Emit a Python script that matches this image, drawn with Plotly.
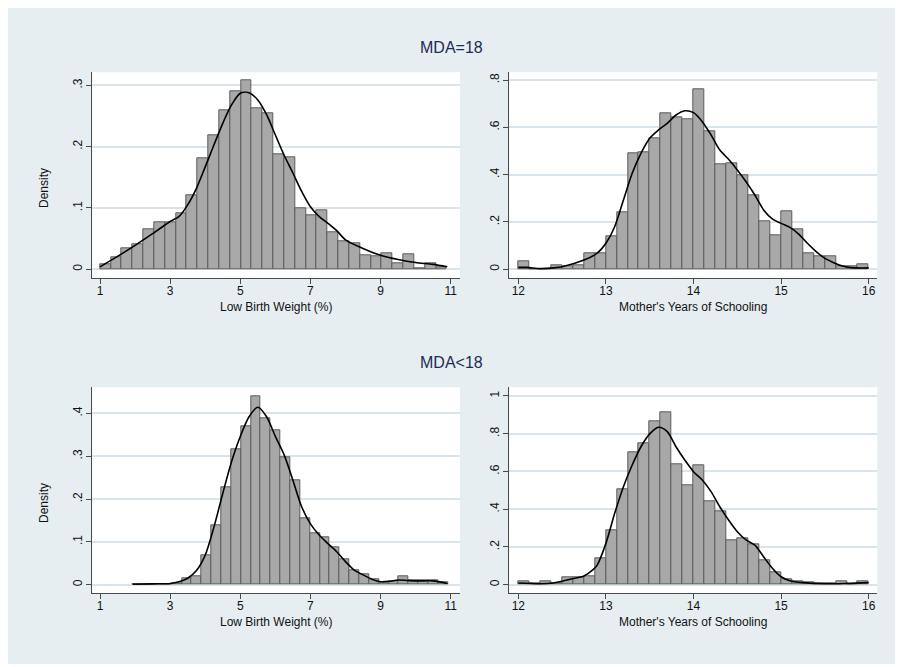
import plotly.graph_objects as go

# ---------------- data ----------------
# Panel A: MDA=18, Low Birth Weight (%)
lbw18_start, lbw18_width = 1.0, 0.309
lbw18_density = [0.008, 0.020, 0.034, 0.041, 0.065, 0.077, 0.077, 0.091, 0.121, 0.181,
                 0.218, 0.259, 0.291, 0.308, 0.263, 0.255, 0.188, 0.183, 0.100, 0.088,
                 0.096, 0.060, 0.045, 0.042, 0.022, 0.021, 0.026, 0.009, 0.024, 0.002,
                 0.010, 0.004]
lbw18_kde_x = [1.0, 1.5, 2.0, 2.5, 3.0, 3.25, 3.5, 3.75, 4.0, 4.25, 4.5, 4.75, 5.0, 5.25,
               5.5, 5.75, 6.0, 6.25, 6.5, 6.75, 7.0, 7.25, 7.5, 7.75, 8.0, 8.5, 9.0, 9.5,
               10.0, 10.5, 10.9]
lbw18_kde_y = [0.004, 0.021, 0.039, 0.058, 0.078, 0.086, 0.105, 0.132, 0.167, 0.203, 0.238,
               0.268, 0.287, 0.288, 0.276, 0.252, 0.219, 0.186, 0.157, 0.127, 0.102, 0.086,
               0.075, 0.063, 0.048, 0.034, 0.023, 0.016, 0.011, 0.008, 0.004]

# Panel B: MDA=18, Mother's Years of Schooling
sch18_start, sch18_width = 12.0, 0.125
sch18_density = [0.032, 0.0, 0.0, 0.015, 0.014, 0.018, 0.066, 0.066, 0.138, 0.239,
                 0.492, 0.496, 0.555, 0.659, 0.644, 0.635, 0.759, 0.583, 0.445, 0.448,
                 0.399, 0.314, 0.203, 0.142, 0.244, 0.169, 0.066, 0.056, 0.056, 0.011,
                 0.011, 0.021]
sch18_kde_x = [12.0, 12.1, 12.25, 12.4, 12.5, 12.75, 12.9, 13.0, 13.1, 13.2, 13.3, 13.4,
               13.5, 13.6, 13.7, 13.8, 13.9, 14.0, 14.1, 14.2, 14.3, 14.4, 14.5, 14.6,
               14.7, 14.8, 14.9, 15.0, 15.1, 15.2, 15.3, 15.4, 15.5, 15.6, 15.7, 15.8, 16.0]
sch18_kde_y = [0.008, 0.008, 0.003, 0.006, 0.011, 0.039, 0.068, 0.110, 0.180, 0.293, 0.406,
               0.490, 0.554, 0.589, 0.617, 0.652, 0.670, 0.662, 0.624, 0.568, 0.504, 0.465,
               0.420, 0.370, 0.314, 0.251, 0.213, 0.194, 0.177, 0.149, 0.110, 0.075, 0.046,
               0.028, 0.014, 0.007, 0.006]

# Panel C: MDA<18, Low Birth Weight (%)
lbwlt_start, lbwlt_width = 1.93, 0.281
lbwlt_density = [0.001, 0.001, 0.002, 0.002, 0.003, 0.016, 0.019, 0.068, 0.138, 0.227,
                 0.317, 0.370, 0.440, 0.388, 0.360, 0.297, 0.244, 0.156, 0.120, 0.110,
                 0.087, 0.060, 0.034, 0.024, 0.012, 0.005, 0.008, 0.019, 0.010, 0.010,
                 0.010, 0.005]
lbwlt_kde_x = [1.93, 2.5, 3.0, 3.25, 3.5, 3.75, 4.0, 4.25, 4.5, 4.75, 5.0, 5.25, 5.5, 5.75,
               6.0, 6.25, 6.5, 6.75, 7.0, 7.25, 7.5, 7.75, 8.0, 8.25, 8.5, 8.75, 9.0, 9.25,
               9.5, 9.75, 10.0, 10.25, 10.5, 10.91]
lbwlt_kde_y = [0.001, 0.002, 0.003, 0.007, 0.015, 0.033, 0.069, 0.135, 0.213, 0.287, 0.346,
               0.392, 0.414, 0.392, 0.346, 0.303, 0.244, 0.182, 0.142, 0.116, 0.096, 0.077,
               0.054, 0.034, 0.023, 0.013, 0.007, 0.008, 0.011, 0.010, 0.009, 0.009, 0.009,
               0.003]

# Panel D: MDA<18, Mother's Years of Schooling
schlt_start, schlt_width = 12.0, 0.125
schlt_density = [0.016, 0.005, 0.016, 0.007, 0.039, 0.039, 0.042, 0.140, 0.286, 0.507,
                 0.701, 0.751, 0.864, 0.912, 0.636, 0.528, 0.634, 0.442, 0.390, 0.233,
                 0.246, 0.212, 0.129, 0.065, 0.028, 0.016, 0.011, 0.007, 0.005, 0.016,
                 0.004, 0.018]
schlt_kde_x = [12.0, 12.25, 12.4, 12.5, 12.6, 12.75, 12.85, 12.9, 13.0, 13.1, 13.2, 13.3,
               13.4, 13.5, 13.6, 13.7, 13.8, 13.9, 14.0, 14.1, 14.2, 14.3, 14.4, 14.5, 14.6,
               14.7, 14.8, 14.9, 15.0, 15.1, 15.25, 15.5, 15.75, 16.0]
schlt_kde_y = [0.009, 0.005, 0.009, 0.018, 0.030, 0.046, 0.078, 0.104, 0.219, 0.378, 0.519,
               0.634, 0.731, 0.799, 0.834, 0.811, 0.731, 0.661, 0.599, 0.555, 0.493, 0.413,
               0.343, 0.281, 0.237, 0.210, 0.148, 0.087, 0.042, 0.021, 0.011, 0.005, 0.007,
               0.011]

group_titles = ["MDA=18", "MDA<18"]
x_titles = ["Low Birth Weight (%)", "Mother's Years of Schooling"]
y_title = "Density"

lbw_ticks = [1, 3, 5, 7, 9, 11]
sch_ticks = [12, 13, 14, 15, 16]
y_ticks_a = [0, 0.1, 0.2, 0.3]
y_text_a = ["0", ".1", ".2", ".3"]
y_ticks_b = [0, 0.2, 0.4, 0.6, 0.8]
y_text_b = ["0", ".2", ".4", ".6", ".8"]
y_ticks_c = [0, 0.1, 0.2, 0.3, 0.4]
y_text_c = ["0", ".1", ".2", ".3", ".4"]
y_ticks_d = [0, 0.2, 0.4, 0.6, 0.8, 1.0]
y_text_d = ["0", ".2", ".4", ".6", ".8", "1"]

# ---------------- styling ----------------
OFF = 8                      # page body margin of the html page
W, H = 903 - OFF, 667 - OFF  # figure size so it fills the window
BG = "#E6EEF1"
GRID = "#DAE5EB"
BAR_FILL = "#A8A8A8"
BAR_LINE = "#5C5C5C"
AXIS = "#4A4A4A"
TITLE_COL = "#1E2B55"
TXT = "#111111"
FONT = "Liberation Sans, Arial, sans-serif"

def px_x(p):   # page pixel -> paper fraction
    return (p - OFF) / W

def px_y(p):
    return 1 - (p - OFF) / H

LEFT_X = (92.3, 460)
RIGHT_X = (509.3, 877.3)
TOP_Y = (72.3, 278.3)
BOT_Y = (387.3, 593.3)

panels = [
    (lbw18_start, lbw18_width, lbw18_density, lbw18_kde_x, lbw18_kde_y, lbw_ticks,
     y_ticks_a, y_text_a, [0.78, 11.265], [-0.0147, 0.3212], LEFT_X, TOP_Y, x_titles[0]),
    (sch18_start, sch18_width, sch18_density, sch18_kde_x, sch18_kde_y, sch_ticks,
     y_ticks_b, y_text_b, [11.897, 16.098], [-0.038, 0.8326], RIGHT_X, TOP_Y, x_titles[1]),
    (lbwlt_start, lbwlt_width, lbwlt_density, lbwlt_kde_x, lbwlt_kde_y, lbw_ticks,
     y_ticks_c, y_text_c, [0.78, 11.265], [-0.020, 0.4607], LEFT_X, BOT_Y, x_titles[0]),
    (schlt_start, schlt_width, schlt_density, schlt_kde_x, schlt_kde_y, sch_ticks,
     y_ticks_d, y_text_d, [11.897, 16.098], [-0.0456, 1.046], RIGHT_X, BOT_Y, x_titles[1]),
]

fig = go.Figure()
layout_axes = {}
annotations = []
shapes = [dict(type="rect", xref="paper", yref="paper", x0=px_x(8), x1=px_x(898),
               y0=px_y(664), y1=px_y(8), fillcolor=BG, line=dict(width=0), layer="below")]

for i, (start, width, dens, kx, ky, xt, yt, ytt, xr, yr, xd, yd, xtitle) in enumerate(panels, 1):
    xa = "x" if i == 1 else f"x{i}"
    ya = "y" if i == 1 else f"y{i}"
    centers = [start + width * (k + 0.5) for k in range(len(dens))]
    fig.add_trace(go.Bar(
        x=centers, y=dens, width=width, xaxis=xa, yaxis=ya,
        marker=dict(color=BAR_FILL, line=dict(color=BAR_LINE, width=1)),
        showlegend=False, hoverinfo="x+y"))
    fig.add_trace(go.Scatter(
        x=kx, y=ky, mode="lines", xaxis=xa, yaxis=ya,
        line=dict(color="black", width=1.6, shape="spline", smoothing=0.8),
        showlegend=False))
    xkey = "xaxis" if i == 1 else f"xaxis{i}"
    ykey = "yaxis" if i == 1 else f"yaxis{i}"
    layout_axes[xkey] = dict(
        domain=[px_x(xd[0]), px_x(xd[1])], range=xr, anchor=ya,
        tickvals=xt, ticktext=[str(v) for v in xt],
        ticks="outside", ticklen=5, tickwidth=1, tickcolor=AXIS,
        ticklabelstandoff=-4,
        showline=True, linecolor=AXIS, linewidth=1, showgrid=False, zeroline=False,
        tickfont=dict(family=FONT, size=12, color=TXT),
        fixedrange=True)
    layout_axes[ykey] = dict(
        domain=[px_y(yd[1]), px_y(yd[0])], range=yr, anchor=xa,
        tickvals=yt, ticktext=ytt, tickangle=-90,
        ticks="outside", ticklen=5, tickwidth=1, tickcolor=AXIS,
        showline=True, linecolor=AXIS, linewidth=1,
        showgrid=True, gridcolor=GRID, gridwidth=1.5, zeroline=False,
        tickfont=dict(family=FONT, size=12, color=TXT),
        fixedrange=True)
    shapes.append(dict(type="rect", xref="paper", yref="paper", x0=px_x(xd[0]), x1=px_x(xd[1]),
                       y0=px_y(yd[1]), y1=px_y(yd[0]), fillcolor="white",
                       line=dict(width=0), layer="below"))
    annotations.append(dict(text=xtitle, xref="paper", yref="paper",
                            x=px_x((xd[0] + xd[1]) / 2), y=px_y(yd[1] + 29),
                            xanchor="center", yanchor="middle", showarrow=False,
                            font=dict(family=FONT, size=12, color=TXT)))

fig.update_layout(**layout_axes)

annotations += [
    dict(text=group_titles[0], xref="paper", yref="paper", x=px_x(451), y=px_y(47),
         xanchor="center", yanchor="middle",
         showarrow=False, font=dict(family=FONT, size=16, color=TITLE_COL)),
    dict(text=group_titles[1], xref="paper", yref="paper", x=px_x(451), y=px_y(362),
         xanchor="center", yanchor="middle",
         showarrow=False, font=dict(family=FONT, size=16, color=TITLE_COL)),
    dict(text=y_title, xref="paper", yref="paper", x=px_x(44), y=px_y(188), textangle=-90,
         xanchor="center", yanchor="middle",
         showarrow=False, font=dict(family=FONT, size=12, color=TXT)),
    dict(text=y_title, xref="paper", yref="paper", x=px_x(44), y=px_y(503), textangle=-90,
         xanchor="center", yanchor="middle",
         showarrow=False, font=dict(family=FONT, size=12, color=TXT)),
]

fig.update_layout(
    width=W, height=H, margin=dict(l=0, r=0, t=0, b=0),
    paper_bgcolor="white", plot_bgcolor="rgba(0,0,0,0)",
    bargap=0, shapes=shapes, annotations=annotations, showlegend=False,
    font=dict(family=FONT),
)

fig.write_html("out.html")
